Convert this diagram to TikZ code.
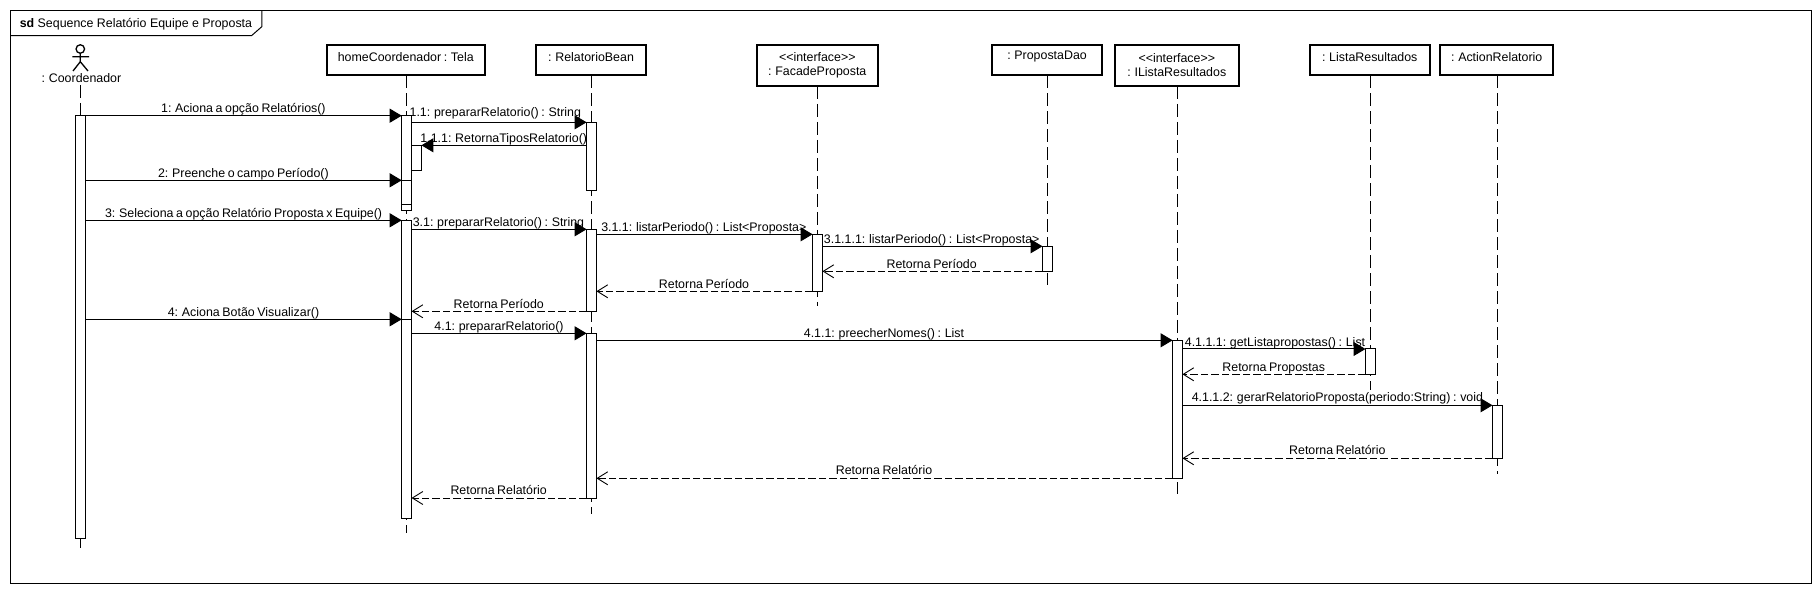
\documentclass[tikz,border=0pt]{standalone}
\usepackage{fontspec}
\setmainfont[WordSpace=0.75]{Liberation Sans}
\newfontfamily\titlefont{Liberation Sans}
\usetikzlibrary{arrows.meta}
\tikzset{
  x=1pt,y=-1pt,
  every node/.style={inner sep=0pt,outer sep=0pt,font=\fontsize{12.4}{14.5}\selectfont},
  frameline/.style={line width=1pt},
  head/.style={draw,line width=2pt,fill=white,anchor=north west},
  headtext/.style={anchor=center,align=center},
  lifeline/.style={line width=1pt,dash pattern=on 13pt off 5pt},
  actbox/.style={draw,fill=white,line width=1pt,minimum width=9.8pt,anchor=north},
  call/.style={line width=1pt,-{Triangle[length=12pt,width=14pt]}},
  ret/.style={line width=1pt,dash pattern=on 7.5pt off 3pt,-{Straight Barb[length=10.5pt,width=13pt,line width=0.9pt]}},
  lbl/.style={anchor=center,text height=10pt,text depth=1.2pt},
}
\newcommand{\headbox}[6]{% name, x1, x2, y2, label, label y
  \node[head,minimum width=#3pt-#2pt,minimum height=#4pt-45pt] (#1) at (#2,45) {};
  \node[headtext] (#1t) at (#2/2+#3/2,#6) {#5};
}
\newcommand{\actv}[4]{% name, x, y1, y2
  \node[actbox,minimum height=#4pt-#3pt] (#1) at (#2,#3) {};
}
\newcommand{\stereo}{<{}<interface>{}>}
\begin{document}
\begin{tikzpicture}
\useasboundingbox (0,0) rectangle (1820,593);
% frame
\coordinate (fNW) at (10.3,10.3);
\coordinate (fSE) at (1811,583.3);
\coordinate (tabA) at (261.8,10.3);
\coordinate (tabB) at (261.8,26.7);
\coordinate (tabC) at (251.5,35.7);
\coordinate (tabD) at (10.3,35.7);
\draw[frameline] (fNW) rectangle (fSE);
\draw[frameline] (tabA) -- (tabB) -- (tabC) -- (tabD);
\node[anchor=base west] (title) at (19.8,28) {\titlefont\textbf{sd} Sequence Relatório Equipe e Proposta};
% actor
\node[draw,circle,line width=1.3pt,minimum size=8.5pt,fill=white] (actorhead) at (80.3,49) {};
\coordinate (neck) at (80.3,61.7);
\coordinate (armL) at (72.4,56.7);
\coordinate (armR) at (89,56.7);
\coordinate (legL) at (73,71);
\coordinate (legR) at (88,71);
\draw[line width=1.3pt] (actorhead.south) -- (neck) (armL) -- (armR) (legL) -- (neck) -- (legR);
\node[lbl] (actorlabel) at (81.5,77.7) {: Coordenador};
% header boxes
\headbox{home}{326.6}{485}{75.3}{homeCoordenador : Tela}{56.7}
\headbox{bean}{535.8}{646.3}{75.3}{: RelatorioBean}{56.7}
\headbox{facade}{757}{877.6}{86}{\stereo\\: FacadeProposta}{65.3}
\headbox{dao}{991.9}{1102.2}{75.3}{: PropostaDao}{56.7}
\headbox{ilista}{1114.8}{1238.8}{86}{\stereo\\: IListaResultados}{65.3}
\headbox{lista}{1309.5}{1430}{75.3}{: ListaResultados}{56.7}
\headbox{action}{1440.4}{1553}{75.3}{: ActionRelatorio}{56.7}
% lifeline ends
\coordinate (eA) at (80.3,548);
\coordinate (eH) at (406.5,533);
\coordinate (eB) at (591.5,514);
\coordinate (eF) at (817.5,306);
\coordinate (eD) at (1047.2,285.3);
\coordinate (eI) at (1177.3,494);
\coordinate (eL) at (1370.4,389.7);
\coordinate (eC) at (1497.4,474);
\draw[lifeline] (80.3,85) -- (eA);
\draw[lifeline] (home.south -| eH) -- (eH);
\draw[lifeline] (bean.south -| eB) -- (eB);
\draw[lifeline] (facade.south -| eF) -- (eF);
\draw[lifeline] (dao.south -| eD) -- (eD);
\draw[lifeline] (ilista.south -| eI) -- (eI);
\draw[lifeline] (lista.south -| eL) -- (eL);
\draw[lifeline] (action.south -| eC) -- (eC);
% activations
\actv{aA}{80.45}{115.7}{538.3}
\actv{aS}{416.5}{145.3}{170.3}
\actv{aH1}{406.6}{115.7}{210.3}
\coordinate (h1split) at (406.6,205);
\draw[line width=1pt] (aH1.west |- h1split) -- (aH1.east |- h1split);
\actv{aH2}{406.6}{220.3}{518.3}
\actv{aB1}{591.5}{122.3}{190.3}
\actv{aB2}{591.5}{229.3}{311.3}
\actv{aB3}{591.5}{333.3}{498}
\actv{aF}{817.5}{234.3}{291.3}
\actv{aD}{1047.4}{246.3}{271.3}
\actv{aI}{1177.5}{340.3}{478.3}
\actv{aL}{1370.4}{349}{374.3}
\actv{aC}{1497.4}{405.3}{458.3}
% messages
\draw[call] (aA.east |- 0,115.7) -- (aH1.west |- 0,115.7);
\node[lbl] (m1) at (243.4,107.7) {1: Aciona a opção Relatórios()};
\draw[call] (aH1.east |- 0,122.3) -- (aB1.west |- 0,122.3);
\node[lbl] (m11) at (495.3,112.3) {1.1: prepararRelatorio() : String};
\draw[call] (aB1.west |- 0,145.3) -- (aS.east |- 0,145.3);
\node[lbl] (m111) at (503.8,137.7) {1.1.1: RetornaTiposRelatorio()};
\draw[call] (aA.east |- 0,180.3) -- (aH1.west |- 0,180.3);
\draw[line width=1pt] (aH1.west |- 0,180.3) -- (aH1.east |- 0,180.3);
\node[lbl] (m2) at (243.4,172.7) {2: Preenche o campo Período()};
\draw[call] (aA.east |- 0,220.3) -- (aH2.west |- 0,220.3);
\node[lbl] (m3) at (243.6,212.7) {3: Seleciona a opção Relatório Proposta x Equipe()};
\draw[call] (aH2.east |- 0,229.3) -- (aB2.west |- 0,229.3);
\node[lbl] (m31) at (498.5,221.7) {3.1: prepararRelatorio() : String};
\draw[call] (aB2.east |- 0,234.3) -- (aF.west |- 0,234.3);
\node[lbl] (m311) at (703.8,226.7) {3.1.1: listarPeriodo() : List<Proposta>};
\draw[call] (aF.east |- 0,246.3) -- (aD.west |- 0,246.3);
\node[lbl] (m3111) at (931.7,238.7) {3.1.1.1: listarPeriodo() : List<Proposta>};
\draw[ret] (aD.west |- 0,271.3) -- (aF.east |- 0,271.3);
\node[lbl] (r3111) at (931.7,263.7) {Retorna Período};
\draw[ret] (aF.west |- 0,291.3) -- (aB2.east |- 0,291.3);
\node[lbl] (r311) at (704,283.7) {Retorna Período};
\draw[ret] (aB2.west |- 0,311.3) -- (aH2.east |- 0,311.3);
\node[lbl] (r31) at (498.8,303.7) {Retorna Período};
\draw[call] (aA.east |- 0,319.3) -- (aH2.west |- 0,319.3);
\draw[line width=1pt] (aH2.west |- 0,319.3) -- (aH2.east |- 0,319.3);
\node[lbl] (m4) at (243.5,311.7) {4: Aciona Botão Visualizar()};
\draw[call] (aH2.east |- 0,333.3) -- (aB3.west |- 0,333.3);
\node[lbl] (m41) at (499,325.7) {4.1: prepararRelatorio()};
\draw[call] (aB3.east |- 0,340.3) -- (aI.west |- 0,340.3);
\node[lbl] (m411) at (884,332.7) {4.1.1: preecherNomes() : List};
\draw[call] (aI.east |- 0,349) -- (aL.west |- 0,349);
\node[lbl] (m4111) at (1275,342) {4.1.1.1: getListapropostas() : List};
\draw[ret] (aL.west |- 0,374.3) -- (aI.east |- 0,374.3);
\node[lbl] (r4111) at (1273.7,366.7) {Retorna Propostas};
\draw[call] (aI.east |- 0,405.3) -- (aC.west |- 0,405.3);
\node[lbl] (m4112) at (1337.4,397) {4.1.1.2: gerarRelatorioProposta(periodo:String) : void};
\draw[ret] (aC.west |- 0,458.3) -- (aI.east |- 0,458.3);
\node[lbl] (r4112) at (1337.3,449.7) {Retorna Relatório};
\draw[ret] (aI.west |- 0,478.3) -- (aB3.east |- 0,478.3);
\node[lbl] (r411) at (884,470) {Retorna Relatório};
\draw[ret] (aB3.west |- 0,498) -- (aH2.east |- 0,498);
\node[lbl] (r41) at (498.7,489.7) {Retorna Relatório};
\end{tikzpicture}
\end{document}
